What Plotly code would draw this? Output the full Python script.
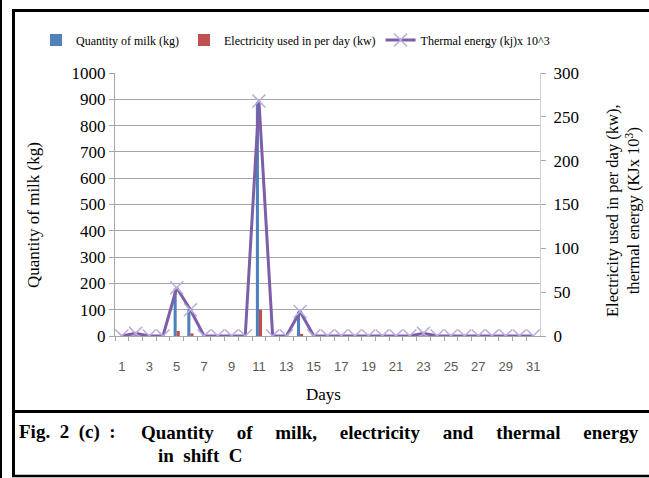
import plotly.graph_objects as go

days = list(range(1, 32))
milk_kg = [0, 10, 0, 0, 180, 100, 0, 0, 0, 0, 890, 0, 0, 93, 0, 0, 0, 0, 0, 0, 0, 0, 10, 0, 0, 0, 0, 0, 0, 0, 0]
electricity_kw = [0, 1, 0, 0, 19, 10, 0, 0, 0, 0, 100, 0, 0, 8, 0, 0, 0, 0, 0, 0, 0, 0, 1, 0, 0, 0, 0, 0, 0, 0, 0]
thermal_kj_e3 = [0, 3, 0, 0, 55, 30, 0, 0, 0, 0, 268, 0, 0, 28, 0, 0, 0, 0, 0, 0, 0, 0, 3, 0, 0, 0, 0, 0, 0, 0, 0]
x_tick_days = list(range(1, 32, 2))
left_ticks = list(range(0, 1001, 100))
right_ticks = list(range(0, 301, 50))

W, H = 649, 478
L, R, T, B = 115, 109, 73, 142
PW, PH = W - L - R, H - T - B


def px(x):
    return (x - L) / PW


def py(y):
    return 1 - (y - T) / PH


SERIF = "Liberation Serif"
NB = "\u00a0"

fig = go.Figure()
fig.add_trace(go.Bar(x=days, y=milk_kg, name="Quantity of milk (kg)",
                     marker=dict(color="#4F81BD", line=dict(width=0))))
fig.add_trace(go.Bar(x=days, y=electricity_kw, name="Electricity used in per day (kw)",
                     marker=dict(color="#C0504D", line=dict(width=0))))
fig.add_trace(go.Scatter(x=days, y=thermal_kj_e3, name="Thermal energy (kj)x 10^3",
                         yaxis="y2", mode="lines+markers",
                         line=dict(color="#7B5FA8", width=3),
                         marker=dict(symbol="x-thin", size=13,
                                     line=dict(color="#B9ABDA", width=1.5))))

fig.update_layout(
    width=W, height=H,
    margin=dict(l=L, r=R, t=T, b=B, pad=0),
    paper_bgcolor="white", plot_bgcolor="white",
    barmode="group", bargap=0.55, bargroupgap=0,
    showlegend=True,
    legend=dict(orientation="h", x=px(36), xanchor="left", y=py(40), yanchor="middle",
                font=dict(family=SERIF, size=12, color="black"),
                itemwidth=30, tracegroupgap=0, bgcolor="rgba(0,0,0,0)",
                borderwidth=0),
    xaxis=dict(range=[0.5, 31.5], tickmode="array", tickvals=x_tick_days,
               ticktext=[str(d) for d in x_tick_days], ticks="", showgrid=False,
               showline=True, linecolor="#A6A6A6", linewidth=1, zeroline=False,
               tickfont=dict(family="Liberation Sans", size=13, color="#595959"),
               ticklabelstandoff=18,
               minor=dict(tickmode="array", tickvals=[d + 0.5 for d in range(0, 31)],
                          ticks="outside", ticklen=4, tickcolor="#A6A6A6", showgrid=False)),
    yaxis=dict(range=[0, 1000], tickmode="array", tickvals=left_ticks,
               ticks="outside", ticklen=5, tickcolor="#A6A6A6",
               showgrid=True, gridcolor="#A6A6A6", gridwidth=1,
               showline=True, linecolor="#A6A6A6", zeroline=False,
               tickfont=dict(family=SERIF, size=17, color="black")),
    yaxis2=dict(range=[0, 300], tickmode="array", tickvals=right_ticks, overlaying="y",
                side="right", ticks="outside", ticklen=5, tickcolor="#A6A6A6",
                showgrid=False, showline=True, linecolor="#D0D0D0", zeroline=False,
                ticklabelstandoff=4,
                tickfont=dict(family=SERIF, size=17, color="black")),
)

annots = [
    dict(text="Quantity of milk (kg)", x=px(33), y=py(215), textangle=-90,
         font=dict(family=SERIF, size=17, color="black")),
    dict(text="Electricity used in per day (kw),<br>thermal energy (KJx 10<sup>3</sup>)",
         x=px(623), y=py(211), textangle=-90,
         font=dict(family=SERIF, size=16.5, color="black")),
    dict(text="Days", x=px(323), y=py(394),
         font=dict(family=SERIF, size=17, color="black")),
]
for a in annots:
    fig.add_annotation(xref="paper", yref="paper", xanchor="center", yanchor="middle",
                       showarrow=False, **a)

cap_font = dict(family=SERIF, size=19, color="black", weight="bold")
gap = " " + NB * 3 + "\u2009"
fig.add_annotation(xref="paper", yref="paper", x=px(17), y=py(432), xanchor="left",
                   yanchor="middle", showarrow=False, font=cap_font,
                   text="Fig." + NB + " 2" + NB + " (c)" + NB + " :")
fig.add_annotation(xref="paper", yref="paper", x=px(641), y=py(432), xanchor="right",
                   yanchor="middle", showarrow=False, font=cap_font,
                   text=gap.join(["Quantity", "of", "milk,", "electricity", "and", "thermal", "energy"]))
fig.add_annotation(xref="paper", yref="paper", x=px(156), y=py(455), xanchor="left",
                   yanchor="middle", showarrow=False, font=cap_font,
                   text="in" + NB + " shift" + NB + " C")

lines = [
    (1, 0, 1, H, 2),
    (13.5, 10, 13.5, 477, 3),
    (12, 10.5, W + 5, 10.5, 3),
    (12, 411.5, W + 5, 411.5, 3),
    (12, 476, W + 5, 476, 2.5),
]
for x0, y0, x1, y1, w in lines:
    fig.add_shape(type="line", xref="paper", yref="paper",
                  x0=px(x0), y0=py(y0), x1=px(x1), y1=py(y1),
                  line=dict(color="black", width=w))

fig.write_html("out.html")
